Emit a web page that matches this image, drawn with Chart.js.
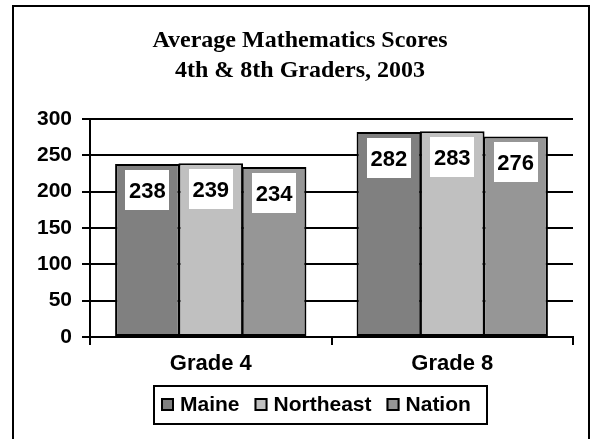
<!DOCTYPE html>
<html>
<head>
<meta charset="utf-8">
<script src="https://cdn.jsdelivr.net/npm/chart.js@4.4.1/dist/chart.umd.min.js"></script>
<style>
  html, body { margin: 0; padding: 0; background: #ffffff; }
  #wrap { width: 590px; height: 439px; }
</style>
</head>
<body>
<div id="wrap"><canvas id="c" width="590" height="439"></canvas></div>
<script>
// Chart content
const categories = ['Grade 4', 'Grade 8'];
const seriesNames = ['Maine', 'Northeast', 'Nation'];
const maineScores = [238, 282];
const northeastScores = [239, 283];
const nationScores = [234, 276];
const yTicks = [0, 50, 100, 150, 200, 250, 300];
const titleLines = ['Average Mathematics Scores', '4th & 8th Graders, 2003'];

// Styling
const seriesColors = ['#808080', '#c0c0c0', '#969696'];
const SANS = '"Liberation Sans", Arial, Helvetica, sans-serif';
const SERIF = '"Liberation Serif", "Times New Roman", Times, serif';

function barDataset(label, data, color) {
  return {
    label: label,
    data: data,
    backgroundColor: color,
    borderColor: '#000000',
    borderWidth: 2,
    borderSkipped: false,
    categoryPercentage: 0.787,
    barPercentage: 1.02
  };
}

// White value boxes inside the top of each bar
const valueBoxes = {
  id: 'valueBoxes',
  afterDatasetsDraw(chart) {
    const ctx = chart.ctx;
    ctx.save();
    ctx.font = 'bold 22px ' + SANS;
    ctx.textAlign = 'center';
    ctx.textBaseline = 'alphabetic';
    chart.data.datasets.forEach((ds, di) => {
      const meta = chart.getDatasetMeta(di);
      meta.data.forEach((bar, i) => {
        const bw = 44, bh = 40;
        const top = bar.y + 6;
        ctx.fillStyle = '#ffffff';
        ctx.fillRect(Math.round(bar.x - bw / 2), Math.round(top), bw, bh);
        ctx.fillStyle = '#000000';
        ctx.fillText(String(ds.data[i]), bar.x, top + bh / 2 + 8);
      });
    });
    ctx.restore();
  }
};

// Outer frame, two-line title and boxed legend
const frameAndLegend = {
  id: 'frameAndLegend',
  afterDraw(chart) {
    const ctx = chart.ctx;
    ctx.save();
    // frame
    ctx.strokeStyle = '#000000';
    ctx.lineWidth = 2;
    ctx.beginPath();
    ctx.moveTo(13, 450);
    ctx.lineTo(13, 6);
    ctx.lineTo(589, 6);
    ctx.lineTo(589, 450);
    ctx.stroke();

    // title
    ctx.fillStyle = '#000000';
    ctx.font = 'bold 24px ' + SERIF;
    ctx.textAlign = 'center';
    ctx.textBaseline = 'alphabetic';
    ctx.fillText(titleLines[0], 300, 47);
    ctx.fillText(titleLines[1], 300, 77);

    // legend box
    ctx.lineWidth = 2;
    ctx.strokeRect(154, 386, 333, 38);
    ctx.font = 'bold 21px ' + SANS;
    ctx.textAlign = 'left';
    let x = 161;
    chart.data.datasets.forEach(ds => {
      ctx.fillStyle = ds.backgroundColor;
      ctx.fillRect(x, 398, 13, 13);
      ctx.strokeStyle = '#000000';
      ctx.lineWidth = 2;
      ctx.strokeRect(x + 1, 399, 11, 11);
      ctx.fillStyle = '#000000';
      ctx.fillText(ds.label, x + 19, 411);
      x += 19 + ctx.measureText(ds.label).width + 15;
    });
    ctx.restore();
  }
};

new Chart(document.getElementById('c'), {
  type: 'bar',
  data: {
    labels: categories,
    datasets: [
      barDataset(seriesNames[0], maineScores, seriesColors[0]),
      barDataset(seriesNames[1], northeastScores, seriesColors[1]),
      barDataset(seriesNames[2], nationScores, seriesColors[2])
    ]
  },
  options: {
    responsive: false,
    animation: false,
    layout: { padding: { top: 119, right: 17, bottom: 0, left: 0 } },
    plugins: {
      legend: { display: false },
      title: { display: false },
      tooltip: { enabled: false }
    },
    scales: {
      x: {
        grid: { drawOnChartArea: false, offset: true, color: '#000000', lineWidth: 2, tickLength: 8 },
        border: { color: '#000000', width: 2 },
        ticks: { color: '#000000', font: { family: SANS, weight: 'bold', size: 22 }, padding: 6 },
        afterFit(scale) { scale.height = 102; }
      },
      y: {
        min: 0,
        max: 300,
        afterBuildTicks(scale) { scale.ticks = yTicks.map(v => ({ value: v })); },
        grid: { color: '#000000', lineWidth: 2, tickLength: 8 },
        border: { color: '#000000', width: 2 },
        ticks: { color: '#000000', font: { family: SANS, weight: 'bold', size: 21 }, padding: 10 },
        afterFit(scale) { scale.width = 90; }
      }
    }
  },
  plugins: [valueBoxes, frameAndLegend]
});
</script>
</body>
</html>
